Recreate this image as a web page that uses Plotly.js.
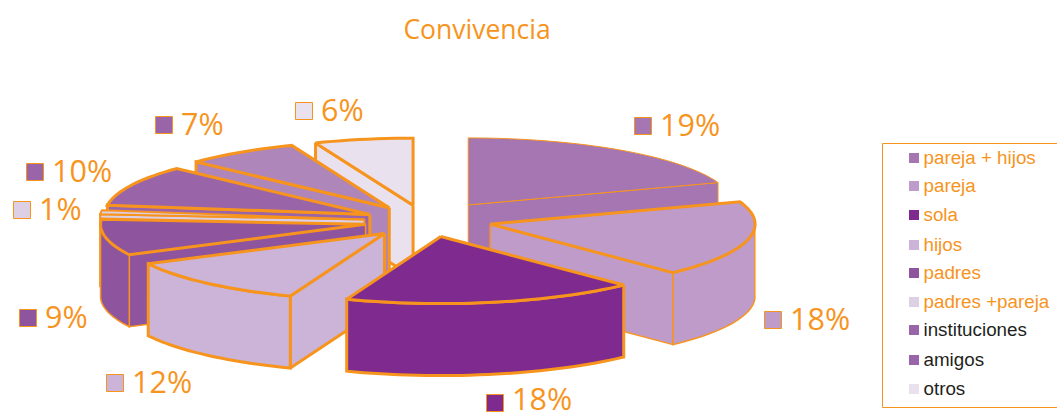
<!DOCTYPE html>
<html>
<head>
<meta charset="utf-8">
<script src="https://cdn.plot.ly/plotly-3.0.1.min.js"></script>
<style>html,body{margin:0;padding:0;background:#fff;overflow:hidden}#chart{width:1057px;height:412px}</style>
</head>
<body>
<div id="chart"></div>
<script>
// Household composition shares, clockwise from twelve o'clock
const categories = ['pareja + hijos','pareja','sola','hijos','padres','padres +pareja','instituciones','amigos','otros'];
const shares = [19,18,18,12,9,1,10,7,6];
const sliceColors = ['#A576B2','#BE9BC8','#7F2A8E','#CBB4D7','#8F549E','#DDCFE4','#9A65A8','#AE86BA','#E9E1EE'];
const keyColors = ['#A576B2','#BE9BC8','#7F2A8E','#CBB4D7','#8F549E','#DDCFE4','#9A65A8','#9A65A8','#E9E1EE'];
const legendTextColors = ['#F7941E','#F7941E','#F7941E','#F7941E','#F7941E','#F7941E','#231F20','#231F20','#231F20'];

// How far each slice is pulled out of the pie, as a fraction of the radius
const pull = [0.29,0.25,0.24,0.24,0.23,0.23,0.23,0.24,0.24];
// Outline weight per slice: top face, then side walls
const topWeight = [1,3,3,3,3,2,3,3,3];
const wallWeight = [1,1.5,3,3,1.5,2,3,3,3];
// Back-to-front painting order
const paintOrder = [0,8,7,6,5,4,3,1,2];

// Projected pie geometry (axis units equal pixels)
const CX = 425, CY = 221, RX = 265, RY = 67, DEPTH = 72;
const ORANGE = '#F7941E';
const rad = d => d * Math.PI / 180;

// Camera twist: angles drift clockwise across the front of the pie
const twist = deg => deg >= 300 ? deg : deg + 3.2 * Math.sin(rad(deg * 180 / 300));
const rim = (deg, ax, ay) => {
  const t = rad(twist(deg));
  return [ax + RX * Math.sin(t), ay - RY * Math.cos(t)];
};

function arc(a0, a1, ax, ay) {
  const n = Math.max(2, Math.ceil((a1 - a0) / 2));
  const pts = [];
  for (let i = 0; i <= n; i++) pts.push(rim(a0 + (a1 - a0) * i / n, ax, ay));
  return pts;
}
function face(pts, color, width) {
  const closed = pts.concat([pts[0]]);
  return {
    type: 'scatter', mode: 'lines', fill: 'toself', fillcolor: color,
    x: closed.map(p => p[0]), y: closed.map(p => p[1]),
    line: { color: ORANGE, width: width, simplify: false },
    hoverinfo: 'skip', showlegend: false
  };
}
const drop = pts => pts.map(p => [p[0], p[1] + DEPTH]);

// Turn cumulative shares into start and end angles
const spans = [];
shares.reduce((acc, v) => { spans.push([acc * 3.6, (acc + v) * 3.6]); return acc + v; }, 0);

const traces = [];
paintOrder.forEach(i => {
  const [a0, a1] = spans[i];
  const mid = (a0 + a1) / 2;
  const ax = CX + pull[i] * RX * Math.sin(rad(mid));
  const ay = CY - pull[i] * RY * Math.cos(rad(mid));
  const apex = [ax, ay];
  const c = sliceColors[i], wt = wallWeight[i];
  // only the cut face turned toward the viewer is drawn
  const cut = p => [apex, p, [p[0], p[1] + DEPTH], [ax, ay + DEPTH]];
  if (a0 >= 180) traces.push(face(cut(rim(a0, ax, ay)), c, wt));
  if (a1 <= 180) traces.push(face(cut(rim(a1, ax, ay)), c, wt));
  // outer wall across the front half
  const w0 = Math.max(a0, 90), w1 = Math.min(a1, 270);
  if (w1 > w0) {
    const top = arc(w0, w1, ax, ay);
    traces.push(face(top.concat(drop(top).reverse()), c, wt));
  }
  // top face
  traces.push(face([apex].concat(arc(a0, a1, ax, ay)), c, topWeight[i]));
});

// Percentage tags beside the pie
const tagX = [643,773,495,115,28,22,35,164,304];
const tagY = [126,320,403,383,318,210,172,125,111];
const tagTextY = [128,322,402,385,320,212,174,127,113];
traces.push({
  type: 'scatter', mode: 'markers', x: tagX, y: tagY,
  marker: { symbol: 'square', size: 17, color: keyColors, line: { color: ORANGE, width: 1 } },
  cliponaxis: false, hoverinfo: 'skip', showlegend: false
});
traces.push({
  type: 'scatter', mode: 'text', x: tagX.map(v => v + 17), y: tagTextY,
  text: shares.map(v => v + '%'), textposition: 'middle right',
  textfont: { family: 'Open Sans, sans-serif', size: 30.5, color: ORANGE },
  cliponaxis: false, hoverinfo: 'skip', showlegend: false
});

// Legend column inside its frame
const legendRows = [158,186,215,245,273,302,330,360,389];
const legendTextRows = [159,187,216,246,274,303,331,361,390];
traces.push({
  type: 'scatter', mode: 'markers', x: categories.map(() => 914), y: legendRows,
  marker: { symbol: 'square', size: 10, color: keyColors },
  cliponaxis: false, hoverinfo: 'skip', showlegend: false
});
traces.push({
  type: 'scatter', mode: 'text', x: categories.map(() => 923.5), y: legendTextRows,
  text: categories, textposition: 'middle right',
  textfont: { family: 'Liberation Sans, Arial, sans-serif', size: 18.8, color: legendTextColors },
  cliponaxis: false, hoverinfo: 'skip', showlegend: false
});

const layout = {
  width: 1057, height: 412,
  margin: { l: 0, r: 0, t: 0, b: 0 },
  paper_bgcolor: '#fff', plot_bgcolor: '#fff',
  showlegend: false,
  title: { text: 'Convivencia', x: 0.4513, xanchor: 'center', y: 0.927, yanchor: 'middle',
           font: { family: 'Open Sans, sans-serif', size: 26.5, color: ORANGE } },
  xaxis: { range: [0, 1057], visible: false, fixedrange: true },
  yaxis: { range: [412, 0], visible: false, fixedrange: true },
  shapes: [{ type: 'rect', xref: 'x', yref: 'y', x0: 882.5, x1: 1062, y0: 143.5, y1: 407.5,
             line: { color: ORANGE, width: 1 }, fillcolor: 'rgba(0,0,0,0)' }]
};
Plotly.newPlot('chart', traces, layout, { staticPlot: true, displayModeBar: false });
</script>
</body>
</html>
